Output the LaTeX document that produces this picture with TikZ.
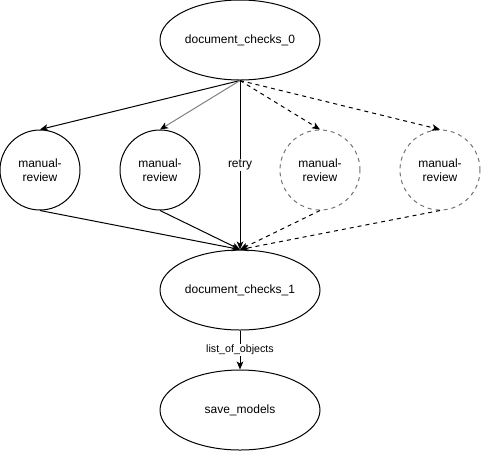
\documentclass[tikz,border=0pt]{standalone}
\usepackage{fontspec}
\setmainfont{Liberation Sans}
\usetikzlibrary{shapes.geometric, arrows.meta}

\tikzset{
  stagebox/.style={draw, ellipse, line width=0.75pt, minimum width=120pt,
    minimum height=60pt, inner sep=0pt, font=\fontsize{9}{10.5}\selectfont},
  reviewbox/.style={draw, circle, line width=0.75pt, minimum size=60pt,
    inner sep=0pt, align=center, font=\fontsize{9}{10.5}\selectfont},
  skipbox/.style={reviewbox, draw=black!55, dashed},
  flow/.style={line width=0.75pt, -{Stealth[length=6pt, width=5pt, inset=1.5pt]}},
  skipflow/.style={flow, dashed},
  edgelabel/.style={fill=white, inner sep=1pt}
}

\begin{document}
\begin{tikzpicture}[x=0.75pt, y=-0.75pt]
\useasboundingbox (0,0) rectangle (481,451);

\node[stagebox] (dc0) at (240,40) {document\_checks\_0};
\node[reviewbox] (mr1) at (40,170) {manual-\\review};
\node[reviewbox] (mr2) at (160,170) {manual-\\review};
\node[skipbox] (mr3) at (320,170) {manual-\\review};
\node[skipbox] (mr4) at (440,170) {manual-\\review};
\node[stagebox] (dc1) at (240,290) {document\_checks\_1};
\node[stagebox] (save) at (240,410) {save\_models};

% fan out
\draw[flow] (dc0.south) -- (mr1.north);
\draw[draw=black!50, line width=0.75pt,
  -{Stealth[length=6pt, width=5pt, inset=1.5pt, color=black]}] (dc0.south) -- (mr2.north);
\draw[skipflow] (dc0.south) -- (mr3.north);
\draw[skipflow] (dc0.south) -- (mr4.north);
\draw[flow] (dc0.south) -- (dc1.north) node[midway, edgelabel, font=\fontsize{9}{10.5}\selectfont] {retry};

% fan in
\draw[flow] (mr1.south) -- (dc1.north);
\draw[flow] (mr2.south) -- (dc1.north);
\draw[skipflow] (mr3.south) -- (dc1.north);
\draw[skipflow] (mr4.south) -- (dc1.north);

\draw[flow] (dc1.south) -- (save.north) node[midway, edgelabel, font=\fontsize{8}{9.5}\selectfont] {list\_of\_objects};
\end{tikzpicture}
\end{document}
